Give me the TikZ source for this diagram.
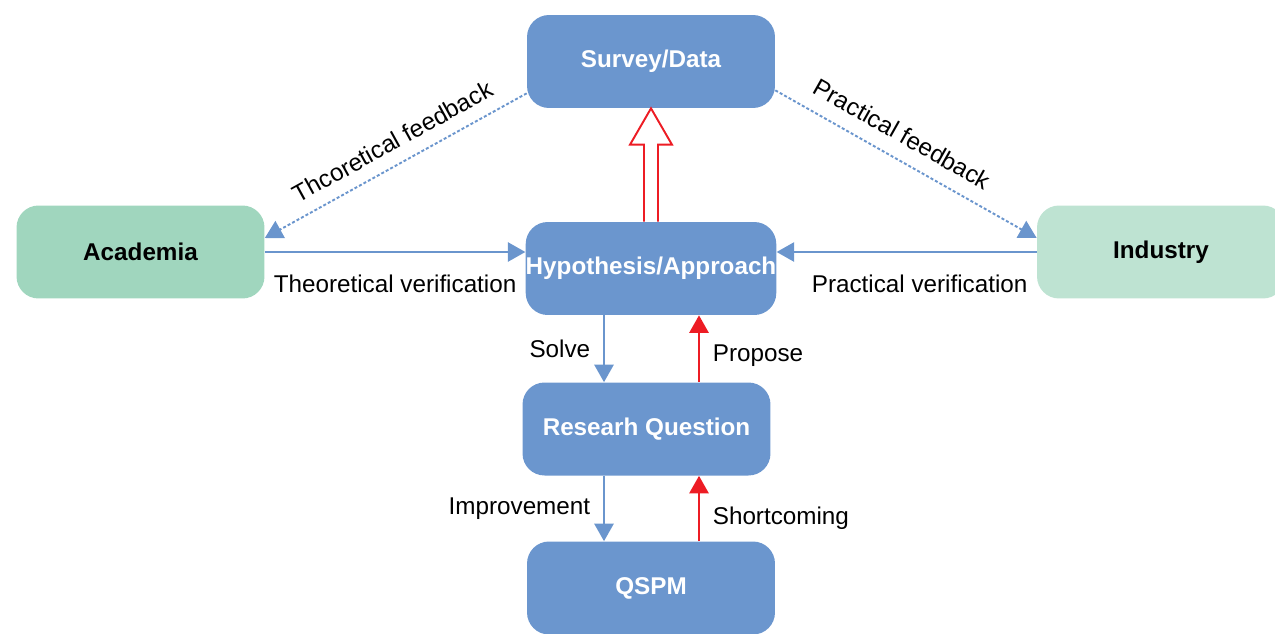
\documentclass[tikz,border=0pt]{standalone}
\usepackage{fontspec}
\setmainfont{Liberation Sans}
\usetikzlibrary{arrows.meta,calc}

\definecolor{boxblue}{RGB}{107,150,206}
\definecolor{lineblue}{RGB}{106,149,205}
\definecolor{arrowred}{RGB}{237,28,36}
\definecolor{acgreen}{RGB}{160,214,190}
\definecolor{ingreen}{RGB}{190,227,210}

\begin{document}
\begin{tikzpicture}[x=0.02cm,y=-0.02cm,
  font=\fontsize{13.8}{16}\selectfont,
  box/.style={rounded corners=0.44cm, minimum width=4.96cm, minimum height=1.86cm,
    inner sep=0pt, font=\fontsize{13.8}{16}\selectfont\bfseries},
  stagebox/.style={box, fill=boxblue, text=white},
  partnerbox/.style={box, text=black},
  blueline/.style={draw=lineblue, line width=1.1pt, -{Triangle[width=11pt,length=10pt]}},
  redline/.style={draw=arrowred, line width=1.1pt, -{Triangle[width=11pt,length=10pt]}},
  feedback/.style={blueline, dash pattern=on 1.7pt off 1.2pt}]
\useasboundingbox (0,0) rectangle (1275,633);
% boxes
\node[stagebox] (sv) at (651,61.5) {Survey/Data};
\node[stagebox] (hyp) at (651,268.5) {Hypothesis/Approach};
\node[stagebox] (rq) at (646.5,429) {Researh Question};
\node[stagebox] (qspm) at (651,588) {QSPM};
\node[partnerbox, fill=acgreen] (ac) at (140.5,252) {Academia};
\node[partnerbox, fill=ingreen] (in) at (1161,252) {Industry};
\coordinate (downx) at (604,0);
\coordinate (upx) at (699,0);
% vertical loop
\draw[blueline] (hyp.south -| downx) -- node[left=4pt] {Solve} (rq.north -| downx);
\draw[redline] (rq.north -| upx) -- node[right=4pt, pos=0.4] {Propose} (hyp.south -| upx);
\draw[blueline] (rq.south -| downx) -- node[left=4pt] {Improvement} (qspm.north -| downx);
\draw[redline] (qspm.north -| upx) -- node[right=4pt, pos=0.35] {Shortcoming} (rq.south -| upx);
% verification
\draw[blueline] (ac.east) -- node[below=9pt] {Theoretical verification} (ac.east -| hyp.west);
\draw[blueline] (in.west) -- node[below=9pt, pos=0.45] {Practical verification} (in.west -| hyp.east);
% feedback
\draw[feedback] ($(sv.south west)+(0,-15)$) -- node[sloped, above=4pt, pos=0.47] {Thcoretical feedback} ($(ac.east)+(0,-14)$);
\draw[feedback] ($(sv.south east)+(0,-18)$) -- node[sloped, above=5pt, pos=0.44] {Practical feedback} ($(in.west)+(0,-14)$);
% hollow arrow
\draw[draw=arrowred, line width=1.1pt, fill=white] ($(hyp.north)+(-7,0)$) -- ($(hyp.north)+(-7,-77)$)
  -- ($(hyp.north)+(-21,-77)$) -- (sv.south) -- ($(hyp.north)+(21,-77)$)
  -- ($(hyp.north)+(7,-77)$) -- ($(hyp.north)+(7,0)$);
\end{tikzpicture}
\end{document}
